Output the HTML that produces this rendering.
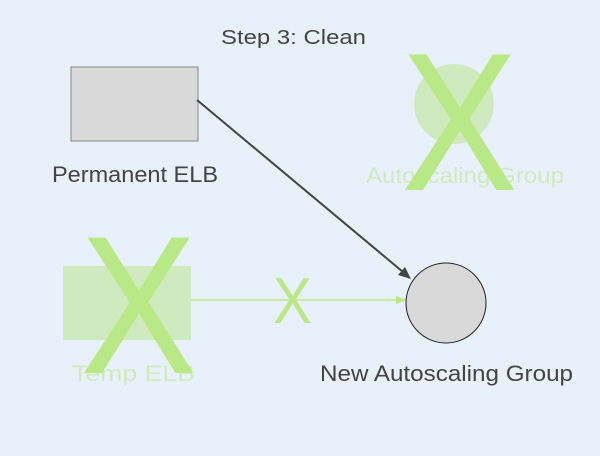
<!DOCTYPE html>
<html><head><style>body{margin:0;background:#e8f0f9}svg{display:block}</style></head>
<body>
<svg width="600" height="456" xmlns="http://www.w3.org/2000/svg" font-family="Liberation Sans, sans-serif">
<rect width="600" height="456" fill="#e8f0f9"/>
<text x="221" y="44" font-size="20" fill="#444" textLength="145" lengthAdjust="spacingAndGlyphs">Step 3: Clean</text>
<rect x="71" y="67" width="127" height="74" fill="#d9d9d9" stroke="#888" stroke-width="1"/>
<text x="52" y="182" font-size="22" fill="#444" textLength="166" lengthAdjust="spacingAndGlyphs">Permanent ELB</text>
<circle cx="454" cy="104" r="40" fill="#d0eac0"/>
<text x="366" y="183" font-size="22" fill="#d0eac0" textLength="198" lengthAdjust="spacingAndGlyphs">Autoscaling Group</text>
<rect x="63" y="266" width="128" height="74" fill="#d0eac0"/>
<text x="72" y="381" font-size="22" fill="#d0eac0" textLength="123" lengthAdjust="spacingAndGlyphs">Temp ELB</text>
<line x1="191" y1="300" x2="398" y2="300" stroke="#b9e987" stroke-width="1.5"/>
<polygon points="407,300 396,296 396,304" fill="#b9e987"/>
<line x1="197" y1="100" x2="403" y2="272" stroke="#444" stroke-width="2"/>
<polygon points="411,279 398,275 405,267" fill="#444"/>
<circle cx="446" cy="303" r="40" fill="#d9d9d9" stroke="#222" stroke-width="1"/>
<text x="320" y="381" font-size="22" fill="#444" textLength="253" lengthAdjust="spacingAndGlyphs">New Autoscaling Group</text>
<text x="80" y="373" font-size="197" fill="#b9e987" textLength="117" lengthAdjust="spacingAndGlyphs">X</text>
<text x="401" y="190" font-size="197" fill="#b9e987" textLength="117" lengthAdjust="spacingAndGlyphs">X</text>
<text x="273" y="323" font-size="65" fill="#b9e987" textLength="39" lengthAdjust="spacingAndGlyphs">X</text>
</svg>
</body></html>
